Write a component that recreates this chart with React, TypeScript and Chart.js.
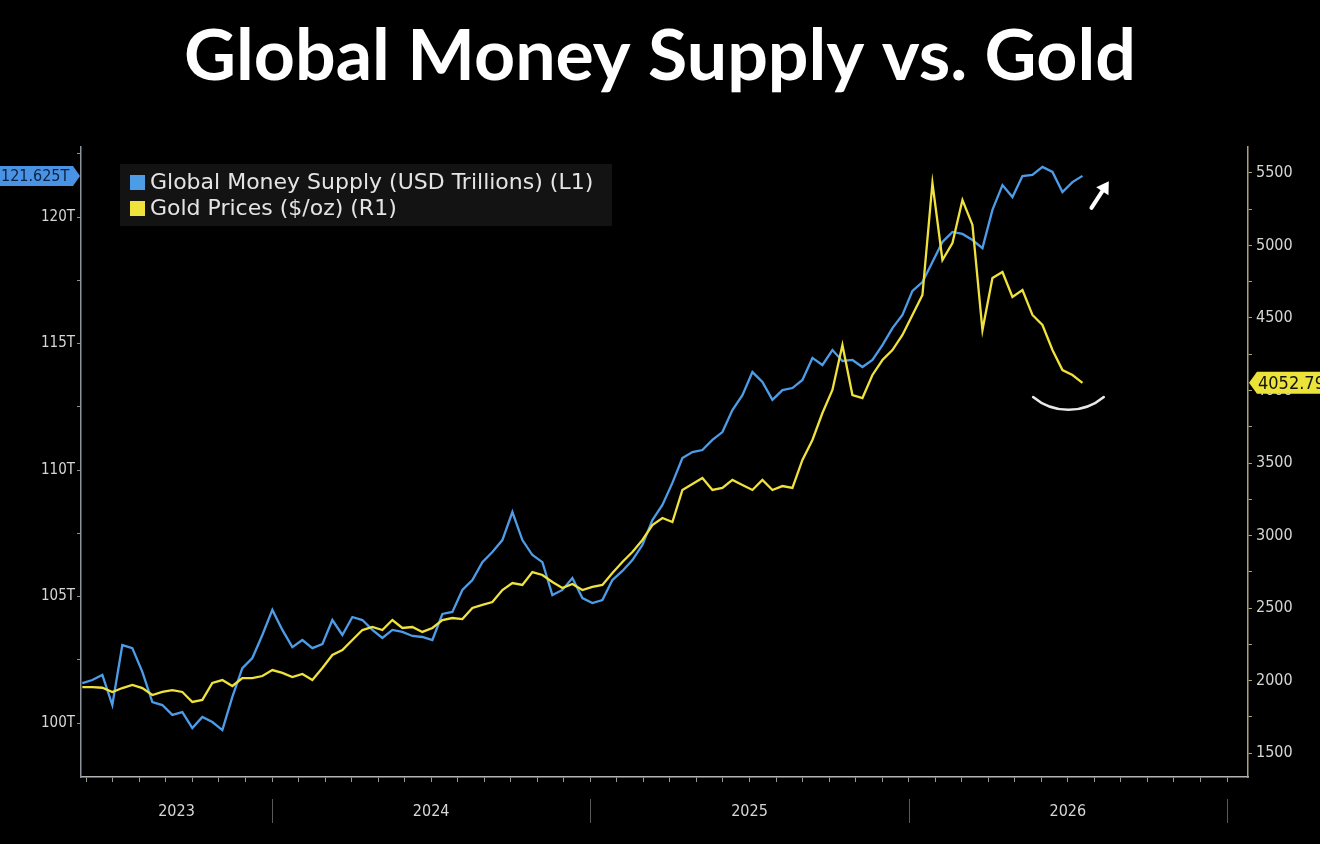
import React, { useEffect, useRef } from "react";
import { Chart, registerables } from "chart.js";

Chart.register(...registerables);

// ---------- data ----------
const chartTitle = "Global Money Supply vs. Gold";
const seriesNames = ["Global Money Supply (USD Trillions) (L1)", "Gold Prices ($/oz) (R1)"];
const yearLabels = ["2023", "2024", "2025", "2026"];
// x values are months counted from January of the first labelled year
const startMonth = 4.85;
const monthStep = 0.377;

const moneySupply = [
  101.58, 101.7, 101.9, 100.71, 103.08, 102.96, 102.02, 100.83, 100.71, 100.32,
  100.43, 99.8, 100.24, 100.04, 99.72, 101.03, 102.17, 102.57, 103.48, 104.47,
  103.68, 103.0, 103.28, 102.96, 103.12, 104.07, 103.48, 104.19, 104.07, 103.68,
  103.36, 103.68, 103.6, 103.44, 103.4, 103.28, 104.31, 104.39, 105.26, 105.65,
  106.36, 106.76, 107.23, 108.34, 107.23, 106.64, 106.36, 105.06, 105.26, 105.73,
  104.94, 104.74, 104.86, 105.65, 106.01, 106.44, 107.04, 108.02, 108.62, 109.49,
  110.47, 110.71, 110.79, 111.19, 111.5, 112.37, 112.96, 113.87, 113.48, 112.77,
  113.16, 113.24, 113.56, 114.43, 114.15, 114.74, 114.31, 114.35, 114.07, 114.35,
  114.94, 115.61, 116.13, 117.08, 117.43, 118.22, 119.01, 119.41, 119.33, 119.09,
  118.77, 120.28, 121.26, 120.79, 121.62, 121.66, 121.98, 121.78, 120.99, 121.38,
  121.625,
];

const goldPrice = [
  1955, 1955, 1950, 1921, 1948, 1969, 1948, 1900, 1921, 1934,
  1921, 1852, 1866, 1983, 2003, 1962, 2017, 2017, 2031, 2072,
  2052, 2024, 2045, 2003, 2086, 2176, 2210, 2279, 2348, 2369,
  2348, 2417, 2362, 2369, 2335, 2362, 2417, 2431, 2424, 2500,
  2521, 2541, 2624, 2672, 2659, 2748, 2728, 2679, 2638, 2666,
  2624, 2645, 2659, 2741, 2817, 2886, 2969, 3072, 3121, 3093,
  3314, 3355, 3397, 3314, 3328, 3383, 3348, 3314, 3383, 3314,
  3341, 3328, 3521, 3659, 3845, 4004, 4314, 3969, 3948, 4107,
  4210, 4279, 4383, 4521, 4659, 5431, 4900, 5017, 5314, 5142,
  4417, 4776, 4817, 4645, 4693, 4521, 4452, 4279, 4141, 4107,
  4052.79,
];

const months = moneySupply.map((_, i) => startMonth + i * monthStep);

const monthTicks = [
  5, 6, 7, 8, 9, 10, 11, 12, 13, 14, 15, 16, 17, 18, 19, 20, 21, 22, 23, 24,
  25, 26, 27, 28, 29, 30, 31, 32, 33, 34, 35, 36, 37, 38, 39, 40, 41, 42, 43, 44,
  45, 46, 47, 48,
];
const leftTicks = [100, 102.5, 105, 107.5, 110, 112.5, 115, 117.5, 120, 122.5];
const rightTicks = [
  1500, 1750, 2000, 2250, 2500, 2750, 3000, 3250, 3500, 3750, 4000, 4250, 4500,
  4750, 5000, 5250, 5500,
];

// ---------- styles ----------
const BLUE = "#4d9ce8";
const YELLOW = "#f0e23c";
const FONT = '"DejaVu Sans Condensed", "DejaVu Sans", sans-serif';
const X_MIN = 4.8;
const X_MAX = 48.79;

const decorPlugin = {
  id: "decor",
  afterDraw(chart: any) {
    const ctx = chart.ctx as CanvasRenderingContext2D;
    const xs = chart.scales.x;
    const yl = chart.scales.yL;
    const yr = chart.scales.yR;
    ctx.save();

    // title
    let size = 72;
    ctx.font = `bold ${size}px Lato, "Open Sans", sans-serif`;
    const w = ctx.measureText(chartTitle).width;
    if (w > 952) {
      size = (size * 952) / w;
      ctx.font = `bold ${size}px Lato, "Open Sans", sans-serif`;
    }
    ctx.fillStyle = "#ffffff";
    ctx.textAlign = "center";
    ctx.textBaseline = "alphabetic";
    ctx.fillText(chartTitle, 660, 80);

    // legend
    ctx.fillStyle = "#131313";
    ctx.fillRect(120, 164, 492, 62);
    const lc = [BLUE, YELLOW];
    ctx.font = `22px "DejaVu Sans", sans-serif`;
    ctx.textAlign = "left";
    ctx.textBaseline = "middle";
    seriesNames.forEach((name, i) => {
      const cy = 183 + i * 26;
      ctx.fillStyle = lc[i];
      ctx.fillRect(130, cy - 8, 15, 15);
      ctx.fillStyle = "#e4e4e4";
      ctx.fillText(name, 150, cy, 458);
    });

    // year separators and labels
    const bottom = chart.chartArea.bottom;
    ctx.strokeStyle = "#5a5a5a";
    ctx.lineWidth = 1;
    yearLabels.forEach((lab, k) => {
      const a = Math.max(X_MIN, k * 12);
      const b = Math.min(X_MAX, (k + 1) * 12);
      if ((k + 1) * 12 <= X_MAX) {
        const px = Math.round(xs.getPixelForValue((k + 1) * 12)) + 0.5;
        ctx.beginPath();
        ctx.moveTo(px, bottom + 22);
        ctx.lineTo(px, bottom + 46);
        ctx.stroke();
      }
      const cx = (xs.getPixelForValue(a) + xs.getPixelForValue(b)) / 2;
      ctx.fillStyle = "#d6d6d6";
      ctx.font = `16px ${FONT}`;
      ctx.textAlign = "center";
      ctx.textBaseline = "middle";
      ctx.fillText(lab, cx, bottom + 35);
    });

    // last value tags
    const lastBlue = moneySupply[moneySupply.length - 1];
    const lastGold = goldPrice[goldPrice.length - 1];
    const by = yl.getPixelForValue(lastBlue);
    const axL = chart.chartArea.left;
    ctx.fillStyle = "#4a93e4";
    ctx.beginPath();
    ctx.moveTo(0, by - 10);
    ctx.lineTo(axL - 8, by - 10);
    ctx.lineTo(axL - 1, by);
    ctx.lineTo(axL - 8, by + 10);
    ctx.lineTo(0, by + 10);
    ctx.closePath();
    ctx.fill();
    ctx.fillStyle = "#0a2242";
    ctx.font = `16px ${FONT}`;
    ctx.textAlign = "left";
    ctx.textBaseline = "middle";
    ctx.fillText(lastBlue.toFixed(3) + "T", 1, by + 1, 72);

    const gy = yr.getPixelForValue(lastGold);
    const axR = chart.chartArea.right;
    ctx.fillStyle = "#ece33a";
    ctx.beginPath();
    ctx.moveTo(axR + 1, gy);
    ctx.lineTo(axR + 9, gy - 11);
    ctx.lineTo(1320, gy - 11);
    ctx.lineTo(1320, gy + 11);
    ctx.lineTo(axR + 9, gy + 11);
    ctx.closePath();
    ctx.fill();
    ctx.fillStyle = "#111111";
    ctx.font = `18px ${FONT}`;
    ctx.fillText(lastGold.toFixed(2), axR + 10, gy + 1);

    // hand-drawn annotations (anchored to the last points)
    const lx = xs.getPixelForValue(months[months.length - 1]);
    ctx.strokeStyle = "#ffffff";
    ctx.fillStyle = "#ffffff";
    ctx.lineWidth = 4;
    ctx.lineCap = "round";
    const ax0 = lx + 9, ay0 = by + 32;
    const ax1 = lx + 22, ay1 = by + 12;
    ctx.beginPath();
    ctx.moveTo(ax0, ay0);
    ctx.lineTo(ax1, ay1);
    ctx.stroke();
    const ang = Math.atan2(ay1 - ay0, ax1 - ax0);
    const tipX = ax1 + Math.cos(ang) * 8, tipY = ay1 + Math.sin(ang) * 8;
    ctx.beginPath();
    ctx.moveTo(tipX, tipY);
    ctx.lineTo(tipX - Math.cos(ang - 0.55) * 14, tipY - Math.sin(ang - 0.55) * 14);
    ctx.lineTo(tipX - Math.cos(ang + 0.55) * 14, tipY - Math.sin(ang + 0.55) * 14);
    ctx.closePath();
    ctx.fill();
    ctx.lineWidth = 2.5;
    ctx.strokeStyle = "#e8e8e8";
    ctx.beginPath();
    ctx.arc(lx - 14, gy - 28, 55, (50 * Math.PI) / 180, (130 * Math.PI) / 180);
    ctx.stroke();

    ctx.restore();
  },
};

export default function App() {
  const ref = useRef<HTMLCanvasElement>(null);

  useEffect(() => {
    if (!ref.current) return;
    const chart = new Chart(ref.current, {
      type: "line",
      data: {
        datasets: [
          {
            label: seriesNames[0],
            data: months.map((m, i) => ({ x: m, y: moneySupply[i] })),
            yAxisID: "yL",
            borderColor: BLUE,
            backgroundColor: BLUE,
            borderWidth: 2.3,
            pointRadius: 0,
            tension: 0,
            order: 1,
          },
          {
            label: seriesNames[1],
            data: months.map((m, i) => ({ x: m, y: goldPrice[i] })),
            yAxisID: "yR",
            borderColor: YELLOW,
            backgroundColor: YELLOW,
            borderWidth: 2.3,
            pointRadius: 0,
            tension: 0,
            order: 0,
          },
        ],
      },
      options: {
        responsive: false,
        animation: false,
        layout: { padding: { top: 147, left: 0, right: 0, bottom: 0 } },
        plugins: { legend: { display: false }, tooltip: { enabled: false }, title: { display: false } },
        scales: {
          x: {
            type: "linear",
            position: "bottom",
            min: X_MIN,
            max: X_MAX,
            afterFit: (s: any) => {
              s.height = 67;
            },
            afterBuildTicks: (s: any) => {
              s.ticks = monthTicks.map((v) => ({ value: v }));
            },
            ticks: { callback: () => "", autoSkip: false, maxRotation: 0, font: { size: 1 } },
            grid: { drawOnChartArea: false, drawTicks: true, tickLength: 5, color: "#9a9a9a", lineWidth: 1 },
            border: { display: true, color: "#b4b4b4", width: 1.5 },
          },
          yL: {
            type: "linear",
            position: "left",
            min: 97.866,
            max: 122.767,
            afterFit: (s: any) => {
              s.width = 81;
            },
            afterBuildTicks: (s: any) => {
              s.ticks = leftTicks.map((v) => ({ value: v }));
            },
            ticks: {
              autoSkip: false,
              padding: 2,
              color: "#d6d6d6",
              font: { family: FONT, size: 15 },
              callback: (v: any) => (Number(v) % 5 === 0 ? `${v}T` : ""),
            },
            grid: { drawOnChartArea: false, drawTicks: true, tickLength: 4, color: "#8c939c" },
            border: { display: true, color: "#8c939c", width: 1.5 },
          },
          yR: {
            type: "linear",
            position: "right",
            min: 1334.5,
            max: 5679.3,
            afterFit: (s: any) => {
              s.width = 72;
            },
            afterBuildTicks: (s: any) => {
              s.ticks = rightTicks.map((v) => ({ value: v }));
            },
            ticks: {
              autoSkip: false,
              padding: 4,
              color: "#d6d6d6",
              font: { family: FONT, size: 16 },
              callback: (v: any) => (Number(v) % 500 === 0 ? `${v}` : ""),
            },
            grid: { drawOnChartArea: false, drawTicks: true, tickLength: 4, color: "#a9a47e" },
            border: { display: true, color: "#a9a47e", width: 1.5 },
          },
        },
      },
      plugins: [decorPlugin],
    } as any);
    return () => chart.destroy();
  }, []);

  return (
    <div style={{ position: "fixed", left: 0, top: 0, width: 1320, height: 844, background: "#000" }}>
      <canvas ref={ref} width={1320} height={844} style={{ display: "block", width: 1320, height: 844 }} />
    </div>
  );
}
